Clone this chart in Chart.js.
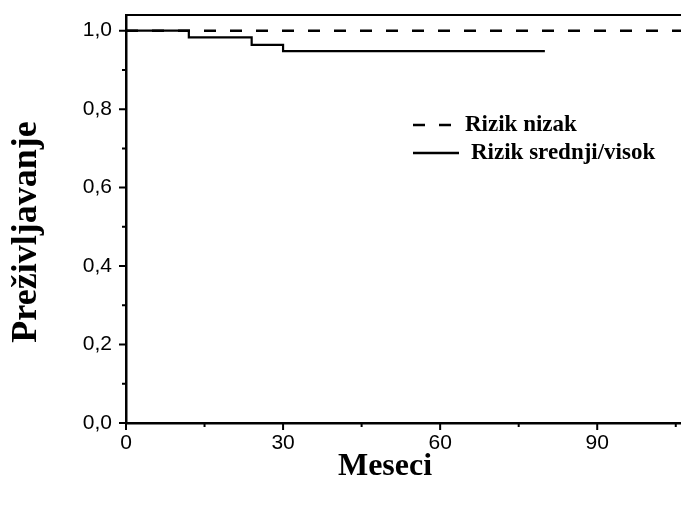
<!DOCTYPE html>
<html>
<head>
<meta charset="utf-8">
<script src="https://cdn.jsdelivr.net/npm/chart.js"></script>
<style>
  html, body { margin: 0; padding: 0; background: #fff; }
  #wrap { width: 681px; height: 505px; }
</style>
</head>
<body>
<div id="wrap"><canvas id="km"></canvas></div>
<script>
// Kaplan-Meier data
const seriesLabels = ['Rizik nizak', 'Rizik srednji/visok'];
const monthsLow = [0, 106];
const survivalLow = [1.0, 1.0];
const monthsMid = [0, 12, 24, 30, 80];
const survivalMid = [1.0, 0.983, 0.964, 0.948, 0.948];

const xMajorTicks = [0, 30, 60, 90];
const xMinorTicks = [15, 45, 75, 105];
const yMajorTicks = [0, 0.2, 0.4, 0.6, 0.8, 1.0];
const yMinorTicks = [0.1, 0.3, 0.5, 0.7, 0.9];

const xTitle = 'Meseci';
const yTitle = 'Preživljavanje';

const toPoints = (xs, ys) => xs.map((x, i) => ({ x: x, y: ys[i] }));

// ticks, top frame line, axis titles and the in-plot legend
const decorations = {
  id: 'decorations',
  afterDraw(chart) {
    const ctx = chart.ctx;
    const area = chart.chartArea;
    const xs = chart.scales.x;
    const ys = chart.scales.y;
    ctx.save();
    ctx.strokeStyle = '#000';

    // top frame
    ctx.lineWidth = 2;
    ctx.beginPath();
    ctx.moveTo(area.left, area.top);
    ctx.lineTo(area.right, area.top);
    ctx.stroke();

    // tick marks (outside)
    ctx.lineWidth = 2;
    ctx.beginPath();
    xMajorTicks.forEach(v => {
      const px = xs.getPixelForValue(v);
      ctx.moveTo(px, area.bottom); ctx.lineTo(px, area.bottom + 7);
    });
    xMinorTicks.forEach(v => {
      const px = xs.getPixelForValue(v);
      ctx.moveTo(px, area.bottom); ctx.lineTo(px, area.bottom + 4);
    });
    yMajorTicks.forEach(v => {
      const py = ys.getPixelForValue(v);
      ctx.moveTo(area.left, py); ctx.lineTo(area.left - 7, py);
    });
    yMinorTicks.forEach(v => {
      const py = ys.getPixelForValue(v);
      ctx.moveTo(area.left, py); ctx.lineTo(area.left - 4, py);
    });
    ctx.stroke();

    // axis titles
    ctx.fillStyle = '#000';
    ctx.textAlign = 'center';
    ctx.textBaseline = 'middle';
    ctx.font = 'bold 32px "Liberation Serif", "Times New Roman", serif';
    ctx.fillText(xTitle, 385, 467);
    ctx.save();
    ctx.translate(27, 232);
    ctx.rotate(-Math.PI / 2);
    ctx.font = 'bold 36px "Liberation Serif", "Times New Roman", serif';
    ctx.fillText(yTitle, 0, 0);
    ctx.restore();

    // legend
    ctx.font = 'bold 23px "Liberation Serif", "Times New Roman", serif';
    ctx.textAlign = 'left';
    const rows = [
      { y: 125, x0: 413, x1: 452, tx: 465 },
      { y: 153, x0: 413, x1: 459, tx: 471 }
    ];
    chart.data.datasets.forEach((ds, i) => {
      const r = rows[i];
      ctx.lineWidth = 2.5;
      ctx.setLineDash(ds.borderDash || []);
      ctx.beginPath();
      ctx.moveTo(r.x0, r.y);
      ctx.lineTo(r.x1, r.y);
      ctx.stroke();
      ctx.setLineDash([]);
      ctx.fillText(ds.label, r.tx, r.y);
    });
    ctx.restore();
  }
};

new Chart(document.getElementById('km'), {
  type: 'line',
  data: {
    datasets: [
      {
        label: seriesLabels[0],
        data: toPoints(monthsLow, survivalLow),
        borderColor: '#000',
        borderWidth: 2.5,
        borderDash: [12, 14],
        pointRadius: 0,
        stepped: 'before'
      },
      {
        label: seriesLabels[1],
        data: toPoints(monthsMid, survivalMid),
        borderColor: '#000',
        borderWidth: 2.2,
        pointRadius: 0,
        stepped: 'before'
      }
    ]
  },
  options: {
    responsive: true,
    maintainAspectRatio: false,
    animation: false,
    layout: { padding: { top: 15, right: 0, left: 0, bottom: 0 } },
    plugins: {
      legend: { display: false },
      tooltip: { enabled: false }
    },
    scales: {
      x: {
        type: 'linear',
        min: 0,
        max: 106,
        afterFit: s => { s.height = 82; s.paddingLeft = 0; s.paddingRight = 0; },
        afterBuildTicks: s => { s.ticks = xMajorTicks.map(v => ({ value: v })); },
        grid: { display: false, drawTicks: false },
        border: { display: true, color: '#000', width: 2.5 },
        ticks: {
          padding: 8,
          color: '#000',
          maxRotation: 0,
          font: { family: '"Liberation Sans", Arial, sans-serif', size: 21 }
        }
      },
      y: {
        type: 'linear',
        min: 0,
        max: 1.04,
        afterFit: s => { s.width = 126; s.paddingTop = 0; s.paddingBottom = 0; },
        afterBuildTicks: s => { s.ticks = yMajorTicks.map(v => ({ value: v })); },
        grid: { display: false, drawTicks: false },
        border: { display: true, color: '#000', width: 2.5 },
        ticks: {
          padding: 14,
          color: '#000',
          font: { family: '"Liberation Sans", Arial, sans-serif', size: 21 },
          callback: v => v.toFixed(1).replace('.', ',')
        }
      }
    }
  },
  plugins: [decorations]
});
</script>
</body>
</html>
